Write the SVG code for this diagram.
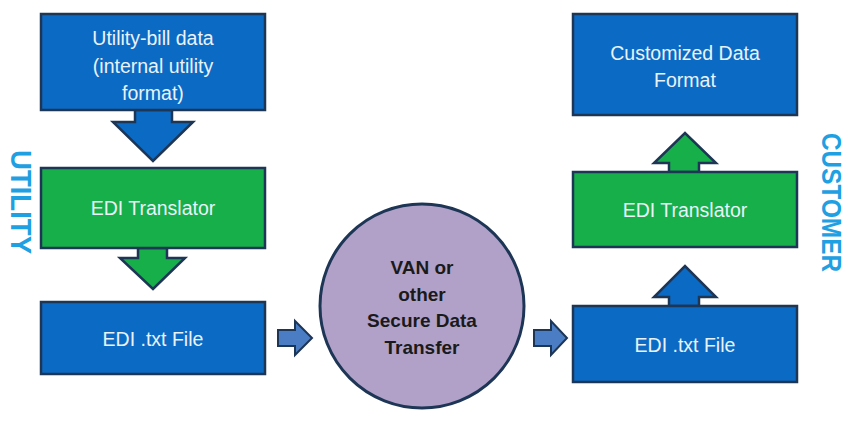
<svg xmlns="http://www.w3.org/2000/svg" width="860" height="421" viewBox="0 0 860 421">
<style>
.box{stroke:#1e3656;stroke-width:2.5}
.blue{fill:#0b6bc4}
.green{fill:#16af4a}
.small{fill:#4a7dc4;stroke:#1e3656;stroke-width:2}
.t{font-family:"Liberation Sans",Arial,sans-serif;font-size:19.5px;fill:#eaf2f8;text-anchor:middle}
.c{font-family:"Liberation Sans",Arial,sans-serif;font-size:19px;font-weight:bold;fill:#1a1a1a;text-anchor:middle}
.v{font-family:"Liberation Sans",Arial,sans-serif;font-size:30px;font-weight:bold;fill:#1ea0e2}
</style>
<rect width="860" height="421" fill="#ffffff"/>
<g id="connectors">
<polygon class="box blue" points="135,110 172,110 172,122 193,122 153,161 113,122 135,122"/>
<polygon class="box green" points="138,248 167,248 167,258 185,258 153,289 120,258 138,258"/>
<polygon class="box green" points="669,172 699,172 699,163 716,163 685,133 654,163 669,163"/>
<polygon class="box blue" points="669,306 699,306 699,297 716,297 685,266 654,297 669,297"/>
<polygon class="small" points="278,330 295,330 295,321 312,338 295,355 295,346 278,346"/>
<polygon class="small" points="534,330 551,330 551,321 567,338 551,355 551,346 534,346"/>
</g>
<g id="utility-bill">
<rect class="box blue" x="41" y="14" width="224" height="96"/>
<text class="t" x="153" y="45">Utility-bill data</text>
<text class="t" x="153" y="73">(internal utility</text>
<text class="t" x="153" y="100">format)</text>
</g>
<g id="edi-translator-left">
<rect class="box green" x="41" y="168" width="224" height="80"/>
<text class="t" x="153" y="215">EDI Translator</text>
</g>
<g id="edi-file-left">
<rect class="box blue" x="41" y="302" width="224" height="72"/>
<text class="t" x="153" y="346">EDI .txt File</text>
</g>
<g id="van">
<circle cx="422" cy="306" r="102" fill="#b1a1c9" stroke="#1e3656" stroke-width="3"/>
<text class="c" x="422" y="274">VAN or</text>
<text class="c" x="422" y="301">other</text>
<text class="c" x="422" y="327">Secure Data</text>
<text class="c" x="422" y="354">Transfer</text>
</g>
<g id="customized">
<rect class="box blue" x="573" y="14" width="224" height="101"/>
<text class="t" x="685" y="60">Customized Data</text>
<text class="t" x="685" y="87">Format</text>
</g>
<g id="edi-translator-right">
<rect class="box green" x="573" y="172" width="224" height="75"/>
<text class="t" x="685" y="217">EDI Translator</text>
</g>
<g id="edi-file-right">
<rect class="box blue" x="573" y="306" width="224" height="76"/>
<text class="t" x="685" y="352">EDI .txt File</text>
</g>
<g id="label-utility">
<text class="v" transform="translate(11,150) rotate(90)" textLength="104" lengthAdjust="spacingAndGlyphs">UTILITY</text>
</g>
<g id="label-customer">
<text class="v" transform="translate(822,133) rotate(90)" textLength="139" lengthAdjust="spacingAndGlyphs" style="font-size:28px">CUSTOMER</text>
</g>
</svg>
